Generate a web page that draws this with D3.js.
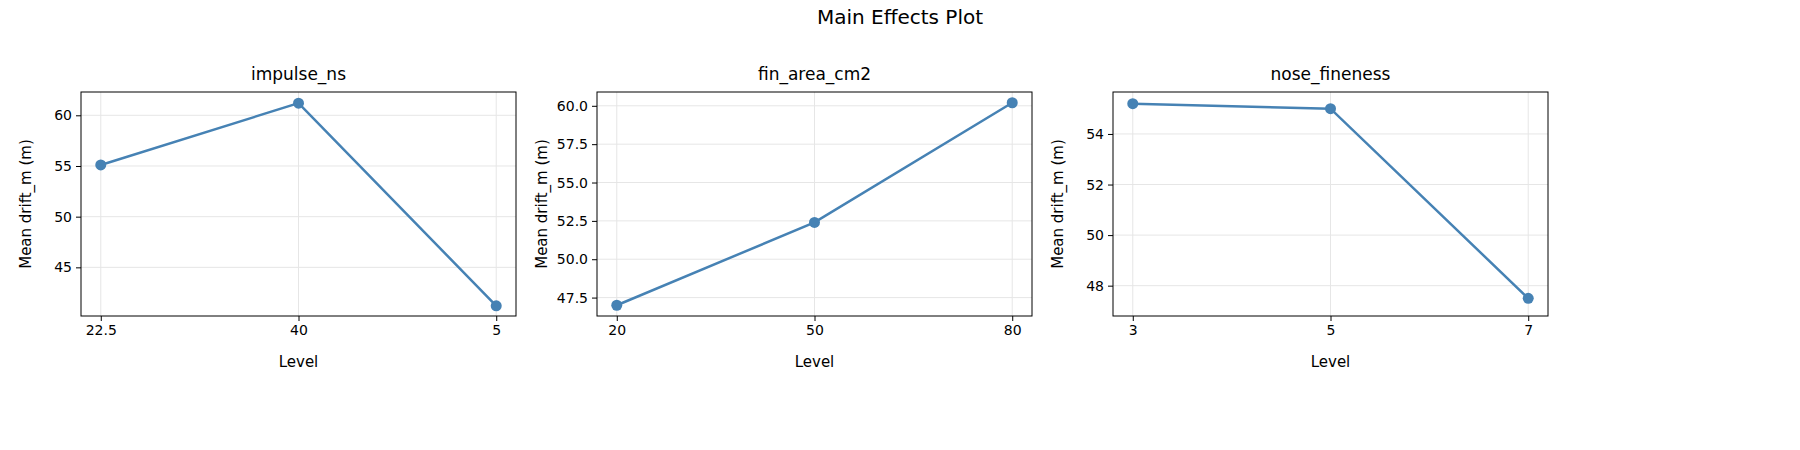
<!DOCTYPE html>
<html>
<head>
<meta charset="utf-8">
<script src="https://cdn.jsdelivr.net/npm/d3@7"></script>
<style>
  body { margin: 0; background: #fff; }
  text { font-family: "DejaVu Sans", sans-serif; fill: #000; }
</style>
</head>
<body>
<svg id="chart" width="1800" height="450"></svg>
<script>
const factors = ['impulse_ns', 'fin_area_cm2', 'nose_fineness'];
const levels = [['22.5', '40', '5'], ['20', '50', '80'], ['3', '5', '7']];
const means = [[55.1, 61.2, 41.2], [47.0, 52.4, 60.2], [55.2, 55.0, 47.5]];
const yDomains = [[40.2, 62.3], [46.3, 60.9], [46.8, 55.66]];
const yTicks = [[45, 50, 55, 60], [47.5, 50, 52.5, 55, 57.5, 60], [48, 50, 52, 54]];
const yFormats = [d3.format('d'), d3.format('.1f'), d3.format('d')];

const svg = d3.select('#chart');
const W = 435, H = 224, plotTop = 92;
const lefts = [81, 597, 1113];

svg.append('text').attr('x', 900).attr('y', 24).attr('text-anchor', 'middle')
  .style('font-size', '20px').text('Main Effects Plot');

factors.forEach((f, i) => {
  const g = svg.append('g').attr('transform', `translate(${lefts[i]},${plotTop})`);
  const x = d3.scalePoint().domain(levels[i]).range([0, W]).padding(0.1);
  const y = d3.scaleLinear().domain(yDomains[i]).range([H, 0]);

  // grid
  g.append('g').selectAll('line').data(yTicks[i]).join('line')
    .attr('x1', 0).attr('x2', W).attr('y1', d => y(d)).attr('y2', d => y(d))
    .attr('stroke', '#e6e6e6').attr('stroke-width', 1);
  g.append('g').selectAll('line').data(levels[i]).join('line')
    .attr('y1', 0).attr('y2', H).attr('x1', d => x(d)).attr('x2', d => x(d))
    .attr('stroke', '#e6e6e6').attr('stroke-width', 1);

  const xa = g.append('g').attr('transform', `translate(0,${H})`)
    .call(d3.axisBottom(x).tickSize(5).tickPadding(4));
  const ya = g.append('g').call(d3.axisLeft(y).tickValues(yTicks[i]).tickFormat(yFormats[i]).tickSize(5).tickPadding(4));
  [xa, ya].forEach(a => {
    a.select('.domain').remove();
    a.selectAll('text').style('font-size', '14px');
    a.selectAll('line').attr('stroke', '#000');
  });

  g.append('rect').attr('width', W).attr('height', H).attr('fill', 'none').attr('stroke', '#000');

  const pts = levels[i].map((l, j) => [x(l), y(means[i][j])]);
  g.append('path').attr('d', d3.line()(pts)).attr('fill', 'none')
    .attr('stroke', '#4682b4').attr('stroke-width', 2.5);
  g.selectAll('circle').data(pts).join('circle')
    .attr('cx', d => d[0]).attr('cy', d => d[1]).attr('r', 5.5).attr('fill', '#4682b4');

  g.append('text').attr('x', W / 2).attr('y', -12).attr('text-anchor', 'middle')
    .style('font-size', '17px').text(f);
  g.append('text').attr('x', W / 2).attr('y', H + 51).attr('text-anchor', 'middle')
    .style('font-size', '15px').text('Level');
  g.append('text').attr('transform', `translate(-50,${H / 2}) rotate(-90)`)
    .attr('text-anchor', 'middle').style('font-size', '15px').text('Mean drift_m (m)');
});
</script>
</body>
</html>
